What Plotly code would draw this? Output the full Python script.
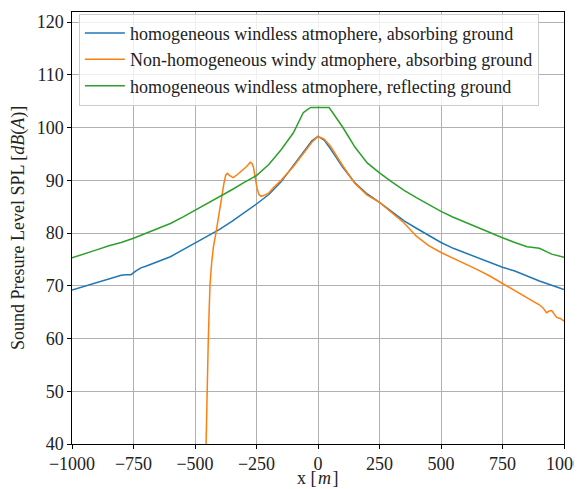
import plotly.graph_objects as go

# ---- data ----
x_blue = [-1000, -950, -900, -850, -800, -780, -760, -740, -720, -700, -650, -600, -550, -500,
          -450, -400, -350, -300, -250, -200, -150, -100, -50, -25, 0, 25, 50, 100, 150, 200,
          250, 300, 350, 400, 450, 500, 550, 600, 650, 700, 750, 800, 850, 900, 950, 1000]
y_blue = [69.2, 69.9, 70.6, 71.3, 72.0, 72.1, 72.1, 72.8, 73.4, 73.7, 74.6, 75.5, 76.8, 78.1,
          79.4, 80.7, 82.2, 83.8, 85.5, 87.3, 89.7, 92.8, 96.0, 97.5, 98.3, 97.6, 96.0, 92.5, 89.5, 87.4,
          85.8, 84.0, 82.3, 80.9, 79.5, 78.2, 77.1, 76.2, 75.3, 74.3, 73.5, 72.8, 71.8, 70.9, 70.1, 69.3]

x_orange = [-455, -452, -448, -446, -442, -439, -432, -425, -415, -405, -398, -390, -382, -375,
            -368, -360, -345, -330, -310, -290, -275, -268, -262, -255, -248, -240, -232, -220,
            -200, -182, -150, -100, -73, -50, -25, 0, 25, 50, 100, 150, 200, 250, 300, 350, 400,
            450, 500, 550, 600, 650, 700, 750, 800, 850, 880, 900, 915, 929, 940, 950, 960, 970,
            985, 1000]
y_orange = [40.0, 48.0, 55.0, 59.7, 66.0, 70.2, 74.5, 77.4, 80.0, 83.0, 84.5, 87.0, 89.5, 91.0,
            91.3, 90.9, 90.5, 91.0, 91.8, 92.6, 93.4, 93.2, 92.4, 90.5, 88.5, 87.3, 87.0, 87.1,
            87.6, 88.6, 90.0, 92.6, 94.2, 95.6, 97.2, 98.3, 97.8, 96.5, 92.8, 89.4, 87.2, 85.8, 83.8, 81.9, 79.4,
            77.6, 76.3, 75.2, 74.2, 73.0, 71.8, 70.4, 69.0, 67.6, 66.9, 66.4, 65.8, 64.9, 65.2, 65.3, 64.6, 64.0,
            63.8, 63.3]

x_green = [-1000, -950, -900, -850, -800, -750, -700, -650, -600, -550, -500, -450, -400, -350,
           -300, -250, -200, -150, -100, -80, -60, -40, -30, 30, 45, 60, 80, 100, 125, 150, 200,
           250, 300, 350, 400, 450, 500, 550, 600, 650, 700, 750, 800, 850, 900, 950, 1000]
y_green = [75.3, 76.0, 76.8, 77.6, 78.2, 79.0, 79.9, 80.8, 81.8, 83.0, 84.3, 85.5, 86.8, 88.2,
           89.6, 90.9, 93.0, 95.8, 99.0, 101.0, 102.8, 103.5, 103.8, 103.8, 103.8, 102.8, 101.5, 100.1, 98.2, 96.3, 93.3,
           91.4, 89.7, 88.1, 86.7, 85.4, 84.1, 83.0, 82.0, 81.0, 80.0, 79.1, 78.2, 77.4, 77.1, 76.0, 75.4]

names = ["homogeneous windless atmophere, absorbing ground",
         "Non-homogeneous windy atmophere, absorbing ground",
         "homogeneous windless atmophere, reflecting ground"]
colors = ["#1f77b4", "#ff7f0e", "#2ca02c"]

x_ticks = [-1000, -750, -500, -250, 0, 250, 500, 750, 1000]
x_ticklabels = ["\u22121000", "\u2212750", "\u2212500", "\u2212250", "0", "250", "500", "750", "1000"]
y_ticks = [40, 50, 60, 70, 80, 90, 100, 110, 120]

FONT = "Liberation Serif"
TXT = "#222"

fig = go.Figure()
for i, (xs, ys) in enumerate([(x_blue, y_blue), (x_orange, y_orange), (x_green, y_green)]):
    fig.add_trace(go.Scatter(x=xs, y=ys, mode="lines", name=names[i],
                             line=dict(color=colors[i], width=1.5)))

axis_common = dict(showline=True, linecolor="black", linewidth=1.2, mirror=True,
                   ticks="outside", ticklen=3.5, tickcolor="black",
                   showgrid=True, gridcolor="#b0b0b0", gridwidth=1, zeroline=False,
                   automargin=False,
                   tickfont=dict(family=FONT, size=18, color=TXT))

fig.update_xaxes(range=[-1000, 1000], tickvals=x_ticks, ticktext=x_ticklabels, **axis_common)
fig.update_yaxes(range=[40, 121.9], tickvals=y_ticks, **axis_common)

fig.add_annotation(text="x [\u200a<i>m</i>\u200a]", xref="paper", yref="paper", x=0.5, y=0,
                   yshift=-34, xanchor="center", yanchor="middle", showarrow=False,
                   font=dict(family=FONT, size=18, color=TXT))
fig.add_annotation(text="Sound Presure Level SPL [<i>dB</i>(<i>A</i>)]", xref="paper", yref="paper",
                   x=0, y=0.5, xshift=-54, xanchor="center", yanchor="middle", textangle=-90,
                   showarrow=False, font=dict(family=FONT, size=18, color=TXT))

# page body adds an 8px offset, so the figure is 8px smaller than the window
fig.update_layout(
    width=574, height=481,
    margin=dict(l=64, r=18, t=4, b=45),
    plot_bgcolor="white", paper_bgcolor="white",
    showlegend=True,
    legend=dict(x=0.014, y=0.996, xanchor="left", yanchor="top",
                bgcolor="rgba(255,255,255,0.8)", bordercolor="#cccccc", borderwidth=1,
                font=dict(family=FONT, size=18, color=TXT), tracegroupgap=0,
                itemwidth=40),
)

fig.write_html("out.html")
